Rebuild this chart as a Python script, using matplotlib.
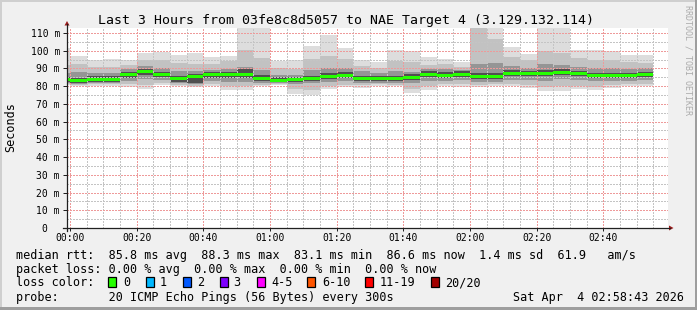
import matplotlib
matplotlib.use('Agg')
import matplotlib.pyplot as plt
from matplotlib.patches import Rectangle, Polygon
from matplotlib.lines import Line2D

plt.rcParams['font.family'] = ['DejaVu Sans Mono']

# ---------------- data (ms) ----------------
# step j covers (t-5min, t], t = minutes after 00:00
times_min = [0, 5, 10, 15, 20, 25, 30, 35, 40, 45, 50, 55, 60, 65, 70, 75, 80, 85,
             90, 95, 100, 105, 110, 115, 120, 125, 130, 135, 140, 145, 150, 155, 160,
             165, 170, 175]

rtt_median = [83.5, 83.1, 83.9, 83.9, 86.6, 88.3, 86.6, 84.4, 85.5, 86.6, 86.6, 86.6,
              84.4, 83.4, 83.8, 84.4, 85.5, 86.0, 84.5, 84.5, 84.5, 85.1, 86.8, 86.2,
              86.8, 85.6, 85.6, 87.3, 87.3, 87.3, 87.9, 87.3, 86.2, 86.2, 86.2, 86.6]

rtt_max = [101.5, 96.8, 95.0, 95.1, 94.5, 98.9, 99.3, 97.4, 98.7, 96.3, 96.8, 116.0,
           116.0, 94.4, 94.5, 102.5, 109.0, 101.5, 94.5, 93.6, 100.2, 99.6, 96.4, 95.3,
           93.6, 118.0, 116.0, 102.1, 98.1, 116.0, 116.0, 100.2, 100.2, 99.8, 97.7, 97.7]

rtt_hi2 = [92.0, 92.5, 91.0, 91.0, 92.0, 94.5, 95.0, 93.0, 92.5, 92.5, 94.0, 100.5,
           96.0, 90.5, 89.5, 95.5, 97.0, 95.5, 91.5, 90.0, 94.0, 93.5, 92.0, 92.5,
           91.0, 113.5, 106.5, 96.5, 94.5, 100.0, 98.5, 96.0, 94.5, 94.5, 93.5, 93.0]

rtt_hi3 = [87.5, 88.0, 87.5, 87.5, 89.5, 91.5, 90.5, 88.5, 88.5, 89.0, 89.5, 91.0,
           89.0, 86.5, 86.5, 89.0, 90.5, 90.0, 88.5, 87.5, 88.5, 88.0, 89.5, 89.5,
           89.0, 92.5, 93.0, 91.5, 90.5, 92.5, 92.0, 91.0, 90.0, 90.0, 89.5, 90.0]

rtt_hi4 = [85.0, 84.5, 85.5, 85.5, 88.0, 89.8, 88.0, 86.0, 87.0, 88.0, 88.0, 89.5,
           86.5, 85.0, 85.3, 86.0, 87.2, 87.8, 86.0, 86.0, 86.0, 86.6, 88.3, 87.8,
           88.3, 87.5, 87.3, 89.0, 88.8, 89.0, 89.5, 88.8, 87.7, 87.7, 87.7, 88.1]

rtt_lo4 = [82.3, 82.0, 82.6, 82.6, 84.6, 86.5, 85.0, 82.4, 82.0, 84.8, 84.5, 84.6,
           83.0, 82.2, 82.4, 83.0, 84.0, 84.4, 83.0, 83.0, 83.0, 83.6, 85.0, 84.6,
           85.3, 84.0, 84.0, 85.6, 85.6, 85.5, 86.2, 85.6, 84.5, 84.6, 84.6, 85.0]

rtt_lo3 = [81.5, 81.3, 81.8, 81.8, 83.0, 84.2, 83.5, 81.6, 81.0, 83.0, 82.5, 82.5,
           82.0, 81.6, 81.2, 81.5, 82.5, 82.8, 82.0, 82.0, 81.8, 81.5, 83.0, 83.0,
           83.5, 82.5, 82.5, 83.5, 83.5, 83.0, 84.0, 83.5, 83.0, 83.0, 83.0, 83.5]

rtt_lo2 = [81.0, 80.8, 81.0, 81.0, 81.0, 80.8, 81.8, 80.8, 80.2, 81.0, 80.0, 80.0,
           80.8, 81.0, 78.5, 78.0, 80.0, 80.5, 80.5, 81.0, 80.8, 78.5, 80.0, 81.0,
           81.0, 80.5, 81.0, 81.2, 80.5, 79.5, 80.0, 80.0, 79.8, 80.5, 81.0, 81.0]

rtt_min = [80.5, 80.3, 80.3, 80.3, 79.3, 78.6, 80.5, 79.9, 79.3, 79.9, 78.0, 78.0,
           79.9, 80.5, 75.8, 74.8, 78.6, 79.3, 79.0, 80.3, 79.9, 76.1, 78.0, 79.9,
           79.3, 79.3, 79.9, 79.9, 79.0, 77.4, 77.4, 78.4, 78.0, 79.0, 79.9, 79.9]

x_tick_pos = [0, 20, 40, 60, 80, 100, 120, 140, 160]
x_tick_labels = ['00:00', '00:20', '00:40', '01:00', '01:20', '01:40', '02:00', '02:20', '02:40']
y_tick_pos = [0, 10, 20, 30, 40, 50, 60, 70, 80, 90, 100, 110]
y_tick_labels = ['0  ', '10 m', '20 m', '30 m', '40 m', '50 m', '60 m', '70 m', '80 m',
                 '90 m', '100 m', '110 m']

loss_labels = ['0', '1', '2', '3', '4-5', '6-10', '11-19', '20/20']
loss_colors = ['#26ff00', '#00b8ff', '#0059ff', '#7e00ff', '#ff00ff', '#ff5500', '#ff0000', '#a10000']

title = 'Last 3 Hours from 03fe8c8d5057 to NAE Target 4 (3.129.132.114)'
line_rtt = 'median rtt:  85.8 ms avg  88.3 ms max  83.1 ms min  86.6 ms now  1.4 ms sd  61.9   am/s'
line_loss = 'packet loss: 0.00 % avg  0.00 % max  0.00 % min  0.00 % now'
line_probe = 'probe:       20 ICMP Echo Pings (56 Bytes) every 300s'
date_text = 'Sat Apr  4 02:58:43 2026'

# ---------------- layout ----------------
W, H = 697, 310


def fx(px):
    return px / W


def fy(py):
    return 1 - py / H


fig = plt.figure(figsize=(W / 100, H / 100), dpi=100)
fig.patch.set_facecolor('#f0f0f0')

# shaded border
fig.add_artist(Rectangle((0, fy(2)), 1, 2 / H, transform=fig.transFigure, color='#cfcfcf', lw=0))
fig.add_artist(Rectangle((0, 0), 2 / W, 1, transform=fig.transFigure, color='#cfcfcf', lw=0))
fig.add_artist(Rectangle((fx(695), 0), 2 / W, 1, transform=fig.transFigure, color='#9e9e9e', lw=0))
fig.add_artist(Rectangle((0, 0), 1, 3 / H, transform=fig.transFigure, color='#9e9e9e', lw=0))

ax = fig.add_axes([fx(67), fy(228), (668 - 67) / W, 200 / H])
ax.set_facecolor('white')
ax.set_xlim(-0.9, 179.4)
ax.set_ylim(0, 112.8)
for s in ax.spines.values():
    s.set_visible(False)

starts = [t - 5 for t in times_min]
bands = [(rtt_min, rtt_max, '#dddddd'),
         (rtt_lo2, rtt_hi2, '#c2c2c2'),
         (rtt_lo3, rtt_hi3, '#959595'),
         (rtt_lo4, rtt_hi4, '#505050')]
for lo, hi, c in bands:
    ax.bar(starts, [h - l for l, h in zip(lo, hi)], bottom=lo, width=5, align='edge',
           color=c, linewidth=0, antialiased=False, zorder=1)

ax.bar(starts, 1.7, bottom=[m - 0.85 for m in rtt_median], width=5, align='edge',
       color='#26ff00', linewidth=0, antialiased=False, zorder=4)

ax.set_xticks(x_tick_pos, x_tick_labels)
ax.set_xticks([t for t in range(5, 180, 5) if t % 20], minor=True)
ax.set_yticks(y_tick_pos, y_tick_labels)
ax.set_yticks([v for v in range(5, 115, 10)], minor=True)
ax.set_axisbelow(False)
ax.grid(which='major', color='#ee9a9a', linestyle=(0, (2, 2)), linewidth=0.72, antialiased=False)
ax.grid(which='minor', color='#c4c4c4', linestyle=(0, (2, 2)), linewidth=0.72, antialiased=False)
ax.tick_params(which='minor', length=0)
ax.tick_params(axis='x', which='major', length=2.0, width=0.72, pad=1.3, labelsize=7, color='#202020')
ax.tick_params(axis='y', which='major', length=2.9, width=0.72, pad=2.2, labelsize=7, color='#202020')

# axis lines and arrows
fig.add_artist(Line2D([fx(67), fx(67)], [fy(230.5), fy(24)], transform=fig.transFigure,
                      color='#202020', lw=0.9))
fig.add_artist(Line2D([fx(63), fx(670)], [fy(228), fy(228)], transform=fig.transFigure,
                      color='#202020', lw=0.9))
fig.add_artist(Polygon([(fx(64.5), fy(25.5)), (fx(69.5), fy(25.5)), (fx(67), fy(21))],
                       transform=fig.transFigure, color='#9b1b1b', lw=0))
fig.add_artist(Polygon([(fx(669), fy(225.5)), (fx(669), fy(230.5)), (fx(673.5), fy(228))],
                       transform=fig.transFigure, color='#9b1b1b', lw=0))

# texts
fig.text(fx(346.5), fy(24), title, ha='center', va='baseline', fontsize=9.5, color='black')
fig.text(fx(10.5), fy(127), 'Seconds', rotation=90, ha='center', va='center', fontsize=8.5)
fig.text(fx(688), fy(5), 'RRDTOOL / TOBI OETIKER', rotation=270, ha='center', va='top',
         fontsize=6, color='#ababab')

fs = 8.5
fig.text(fx(16), fy(258.5), line_rtt, ha='left', va='baseline', fontsize=fs)
fig.text(fx(16), fy(272.5), line_loss, ha='left', va='baseline', fontsize=fs)
fig.text(fx(16), fy(286.5), 'loss color:', ha='left', va='baseline', fontsize=fs)
box_x = [108, 145.5, 182.5, 219.5, 256.5, 307, 365, 431]
lab_x = [123, 160, 197, 233.5, 271, 322, 380, 445.5]
for bx, lx, lab, col in zip(box_x, lab_x, loss_labels, loss_colors):
    fig.add_artist(Rectangle((fx(bx), fy(286.5)), 8 / W, 9.5 / H, transform=fig.transFigure,
                             facecolor=col, edgecolor='black', lw=0.9))
    fig.text(fx(lx), fy(286.5), lab, ha='left', va='baseline', fontsize=fs)
fig.text(fx(16), fy(300.5), line_probe, ha='left', va='baseline', fontsize=fs)
fig.text(fx(513), fy(300.5), date_text, ha='left', va='baseline', fontsize=fs)

fig.savefig('out.png', dpi=100, facecolor=fig.get_facecolor())
